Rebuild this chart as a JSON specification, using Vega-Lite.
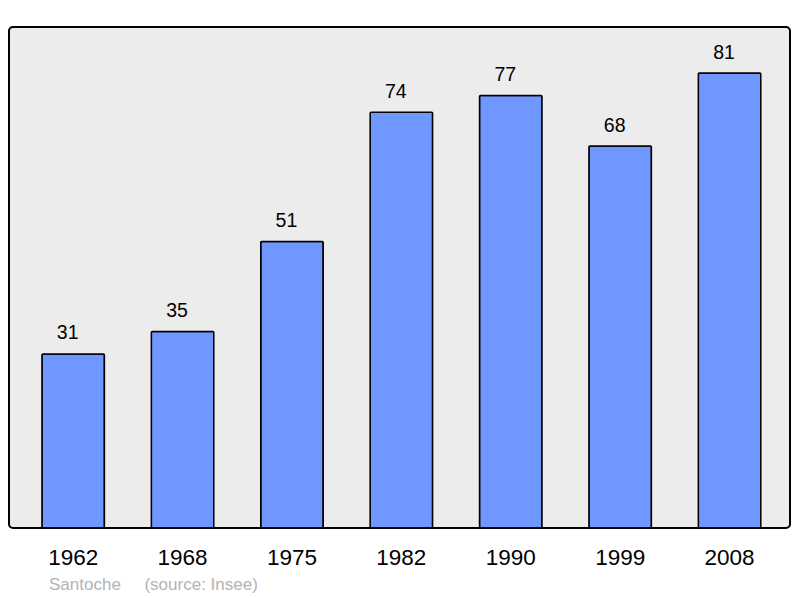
{
  "$schema": "https://vega.github.io/schema/vega-lite/v6.json",
  "width": 781,
  "height": 501,
  "autosize": {"type": "none"},
  "padding": {"left": 9, "top": 27, "right": 10, "bottom": 70},
  "background": "#ffffff",
  "config": {
    "font": "Liberation Sans",
    "view": {"fill": "#ececec", "stroke": "#000000", "strokeWidth": 2, "cornerRadius": 4}
  },
  "title": {
    "text": "Santoche\u00a0\u00a0\u00a0\u00a0 (source: Insee)",
    "orient": "bottom",
    "anchor": "start",
    "frame": "group",
    "dx": 40,
    "offset": 21,
    "baseline": "alphabetic",
    "fontSize": 17,
    "fontWeight": "normal",
    "color": "#b3b3b3",
    "font": "Liberation Sans"
  },
  "data": {
    "values": [
      {"year": "1962", "pop": 31},
      {"year": "1968", "pop": 35},
      {"year": "1975", "pop": 51},
      {"year": "1982", "pop": 74},
      {"year": "1990", "pop": 77},
      {"year": "1999", "pop": 68},
      {"year": "2008", "pop": 81}
    ]
  },
  "encoding": {
    "x": {
      "field": "year",
      "type": "nominal",
      "sort": null,
      "scale": {"paddingInner": 0.429, "paddingOuter": 0.284, "align": 0.53},
      "axis": {
        "title": null,
        "domain": false,
        "ticks": false,
        "tickSize": 0,
        "labelAngle": 0,
        "labelFontSize": 22.5,
        "labelColor": "#000000",
        "labelBaseline": "alphabetic",
        "labelPadding": 36,
        "labelFont": "Liberation Sans"
      }
    },
    "y": {
      "field": "pop",
      "type": "quantitative",
      "scale": {"domain": [0, 89.2], "nice": false, "zero": true},
      "axis": null
    }
  },
  "layer": [
    {
      "mark": {"type": "bar", "fill": "#7096ff", "stroke": "#000000", "strokeWidth": 1.5, "cornerRadius": 1}
    },
    {
      "mark": {"type": "text", "baseline": "alphabetic", "align": "center", "dx": -5.5, "dy": -14.5, "fontSize": 19.5, "color": "#000000", "font": "Liberation Sans"},
      "encoding": {"text": {"field": "pop", "type": "quantitative"}}
    }
  ]
}
